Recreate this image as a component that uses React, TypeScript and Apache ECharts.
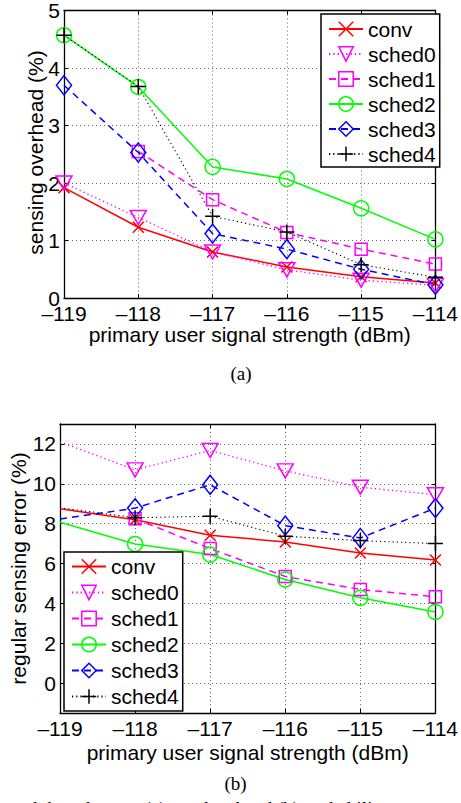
import React, { useEffect, useRef } from 'react';
import * as echarts from 'echarts';

// ---- data ----
const xValues = [-119, -118, -117, -116, -115, -114];
const seriesNames = ['conv', 'sched0', 'sched1', 'sched2', 'sched3', 'sched4'];

// (a) sensing overhead (%)
const convA = [1.92, 1.23, 0.8, 0.54, 0.37, 0.26];
const sched0A = [2.0, 1.4, 0.8, 0.49, 0.31, 0.22];
const sched1A = [null, 2.55, 1.71, 1.14, 0.85, 0.59];
const sched2A = [4.57, 3.67, 2.28, 2.07, 1.56, 1.02];
const sched3A = [3.7, 2.53, 1.12, 0.85, 0.5, 0.23];
const sched4A = [4.57, 3.68, 1.42, 1.15, 0.58, 0.36];

// (b) regular sensing error (%)
const convB = [8.75, 8.2, 7.42, 7.08, 6.53, 6.18];
const sched0B = [12.1, 10.7, 11.67, 10.65, 9.83, 9.45];
const sched1B = [null, 8.25, 6.75, 5.35, 4.7, 4.33];
const sched2B = [8.07, 6.98, 6.45, 5.2, 4.28, 3.57];
const sched3B = [8.23, 8.78, 9.95, 7.9, 7.28, 8.78];
const sched4B = [8.8, 8.3, 8.37, 7.37, 7.15, 7.0];

const yTicksB = [0, 2, 4, 6, 8, 10, 12];

const xAxisName = 'primary user signal strength (dBm)';
const yAxisNameA = 'sensing overhead (%)';
const yAxisNameB = 'regular sensing error (%)';
const captionA = '(a)';
const captionB = '(b)';
const bottomText = 'and the schemes: (a) overhead and (b) probability';

// ---- styles ----
const FONT = 'Liberation Sans, Arial, Helvetica, sans-serif';
const SERIF = 'Liberation Serif, Times New Roman, serif';

const styles: Record<string, any> = {
  conv: { color: '#ff0000', symbol: 'path://M0,0L1,1M1,0L0,1', size: 11, line: 'solid', lw: 1.5 },
  sched0: { color: '#ff00ff', symbol: 'path://M0,0L2,0L1,1.73Z', size: [16, 14], line: [1.3, 3], lw: 1.3 },
  sched1: { color: '#ff00ff', symbol: 'rect', size: 12, line: [7, 5], lw: 1.5 },
  sched2: { color: '#00ff00', symbol: 'circle', size: 15, line: 'solid', lw: 1.5 },
  sched3: { color: '#0000ff', symbol: 'diamond', size: [15, 19], line: [7, 5], lw: 1.5 },
  sched4: { color: '#000000', symbol: 'path://M0.5,0L0.5,1M0,0.5L1,0.5', size: 15, line: [1.2, 3], lw: 1.1 },
};

function makeSeries(name: string, vals: (number | null)[], gridIdx: number, hideFirst: boolean) {
  const s = styles[name];
  const axisIdx = gridIdx * 2;
  return {
    type: 'line',
    name,
    xAxisIndex: axisIdx,
    yAxisIndex: axisIdx,
    symbol: s.symbol,
    symbolSize: s.size,
    showAllSymbol: true,
    clip: true,
    data: xValues.map((x, i) => {
      const v = vals[i];
      if (v === null) return [x, null];
      if (hideFirst && i === 0) return { value: [x, v], symbol: 'none' };
      return [x, v];
    }),
    lineStyle: { color: s.color, width: s.lw, type: s.line },
    itemStyle: { color: 'rgba(0,0,0,0)', borderColor: s.color, borderWidth: 1.5 },
    emphasis: { disabled: true },
  };
}

const axisLine = { show: true, onZero: false, lineStyle: { color: '#000', width: 1.3 } };
const tickStyle = { show: true, inside: true, length: 4, lineStyle: { color: '#000', width: 1 } };
const gridLine = { show: true, lineStyle: { color: '#666', width: 1, type: [1, 3] } };
const labelText = { color: '#000', fontSize: 21, fontFamily: FONT };
const xFmt = (v: number) => (v < 0 ? '\u2013' + -v : String(v));

function xAxes(gridIndex: number, nameGap: number) {
  return [
    {
      type: 'value', gridIndex, position: 'bottom', min: -119, max: -114, interval: 1,
      axisLine, axisTick: tickStyle, splitLine: gridLine,
      axisLabel: { ...labelText, margin: 5, formatter: xFmt },
      name: xAxisName, nameLocation: 'middle', nameGap, nameMoveOverlap: false,
      nameTextStyle: { ...labelText },
    },
    {
      type: 'value', gridIndex, position: 'top', min: -119, max: -114, interval: 1,
      axisLine, axisTick: tickStyle, splitLine: { show: false }, axisLabel: { show: false },
    },
  ];
}

function textEl(text: string, x: number, y: number, font: string, rotation = 0) {
  return {
    type: 'text', x, y, rotation,
    style: { text, font, fill: '#000', align: 'center', verticalAlign: 'middle' },
  };
}

export default function App() {
  const ref = useRef<HTMLDivElement>(null);
  useEffect(() => {
    if (!ref.current) return;
    const chart = echarts.init(ref.current, null, { renderer: 'svg' });
    const legendCommon = {
      orient: 'vertical',
      selectedMode: false,
      data: seriesNames,
      itemWidth: 34,
      itemHeight: 18,
      backgroundColor: '#fff',
      borderColor: '#000',
      borderWidth: 1.5,
      borderRadius: 0,
      textStyle: { ...labelText, lineHeight: 21 },
      itemStyle: { borderWidth: 1.5 },
    };
    const sansFont = `21px ${FONT}`;
    chart.setOption({
      animation: false,
      backgroundColor: '#fff',
      grid: [
        { left: 64, top: 7, width: 379, height: 291 },
        { left: 60, top: 424, width: 378, height: 289 },
      ],
      xAxis: [...xAxes(0, 26), ...xAxes(1, 29)],
      yAxis: [
        {
          type: 'value', gridIndex: 0, position: 'left', min: 0, max: 5, interval: 1,
          axisLine, axisTick: tickStyle, splitLine: gridLine,
          axisLabel: { ...labelText, margin: 4 },
        },
        {
          type: 'value', gridIndex: 0, position: 'right', min: 0, max: 5, interval: 1,
          axisLine, axisTick: tickStyle, splitLine: { show: false }, axisLabel: { show: false },
        },
        {
          type: 'value', gridIndex: 1, position: 'left', min: -1.5, max: 13,
          axisLine, axisTick: { ...tickStyle, customValues: yTicksB }, splitLine: gridLine,
          axisLabel: { ...labelText, margin: 4, customValues: yTicksB },
        },
        {
          type: 'value', gridIndex: 1, position: 'right', min: -1.5, max: 13,
          axisLine, axisTick: { ...tickStyle, customValues: yTicksB },
          splitLine: { show: false }, axisLabel: { show: false, customValues: yTicksB },
        },
      ],
      legend: [
        { ...legendCommon, left: 321, top: 14, itemGap: 4, padding: [4.5, 4, 2.5, 7] },
        { ...legendCommon, left: 64, top: 552, itemGap: 5, padding: [4, 4, 4, 7] },
      ],
      series: [
        makeSeries('conv', convA, 0, false),
        makeSeries('sched0', sched0A, 0, false),
        makeSeries('sched1', sched1A, 0, false),
        makeSeries('sched2', sched2A, 0, false),
        makeSeries('sched3', sched3A, 0, false),
        makeSeries('sched4', sched4A, 0, false),
        makeSeries('conv', convB, 1, true),
        makeSeries('sched0', sched0B, 1, true),
        makeSeries('sched1', sched1B, 1, true),
        makeSeries('sched2', sched2B, 1, true),
        makeSeries('sched3', sched3B, 1, true),
        makeSeries('sched4', sched4B, 1, true),
      ],
      graphic: [
        textEl(yAxisNameA, 35, 152.5, sansFont, Math.PI / 2),
        textEl(yAxisNameB, 18.5, 568.5, sansFont, Math.PI / 2),
        textEl(captionA, 241, 373, `19px ${SERIF}`),
        textEl(captionB, 235.5, 783, `19px ${SERIF}`),
        {
          type: 'text', x: 10, y: 799,
          style: { text: bottomText, font: `19px ${SERIF}`, fill: '#000', align: 'left', verticalAlign: 'top' },
        },
      ],
    });
    return () => chart.dispose();
  }, []);
  return (
    <div
      ref={ref}
      style={{ position: 'absolute', left: 0, top: 0, width: 461, height: 803, overflow: 'hidden' }}
    />
  );
}
